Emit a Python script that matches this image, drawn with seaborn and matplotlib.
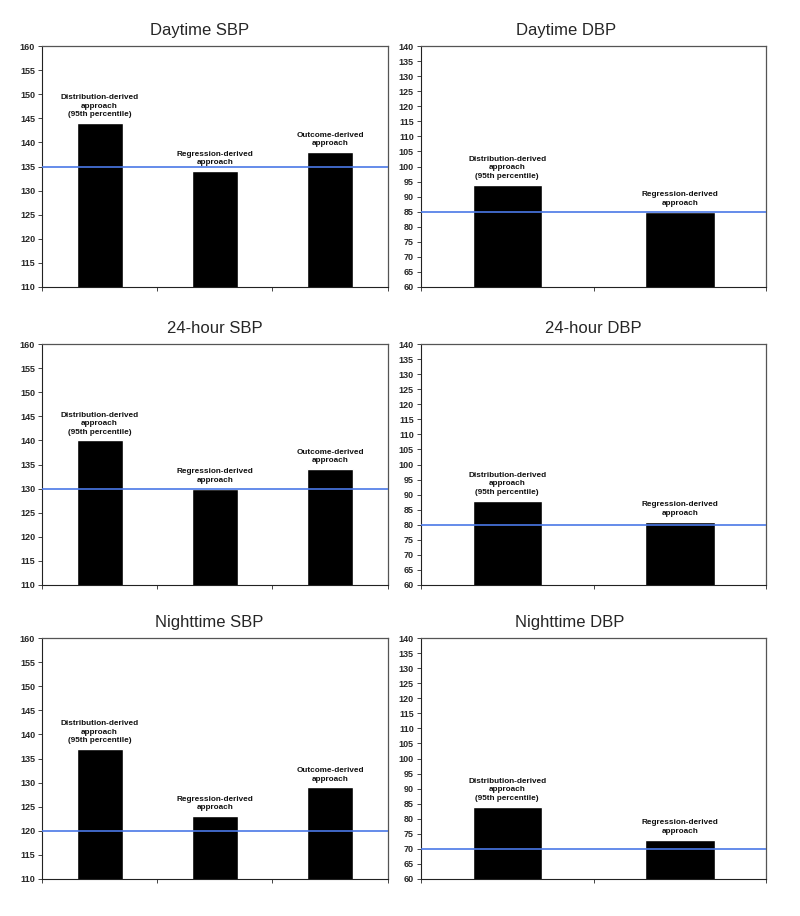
import numpy as np
import pandas as pd
import matplotlib.pyplot as plt
import seaborn as sns

sns.set_style('white')
plt.rcParams['font.family'] = ['Liberation Sans', 'DejaVu Sans']

# approaches and labels
sbp_approaches = ['Distribution-derived\napproach\n(95th percentile)',
                  'Regression-derived\napproach',
                  'Outcome-derived\napproach']
dbp_approaches = sbp_approaches[:2]

# values
day_sbp = [144, 134, 138]
day_dbp = [94, 85]
h24_sbp = [140, 130, 134]
h24_dbp = [88, 81]
night_sbp = [137, 123, 129]
night_dbp = [84, 73]

# reference thresholds (blue line)
thresholds = {'Daytime SBP': 135, 'Daytime DBP': 85,
              '24-hour SBP': 130, '24-hour DBP': 80,
              'Nighttime SBP': 120, 'Nighttime DBP': 70}

panels = [('Daytime SBP', day_sbp), ('Daytime DBP', day_dbp),
          ('24-hour SBP', h24_sbp), ('24-hour DBP', h24_dbp),
          ('Nighttime SBP', night_sbp), ('Nighttime DBP', night_dbp)]

# titles in the original are not quite centred
title_x = [0.457, 0.42, 0.5, 0.5, 0.483, 0.43]

fig = plt.figure(figsize=(8, 9.16), dpi=100)

row_bottoms = [0.6867, 0.3614, 0.0404]
col_lefts = [0.0525, 0.526]
axw, axh = 0.432, 0.263

for i, (title, vals) in enumerate(panels):
    r, c = divmod(i, 2)
    ax = fig.add_axes([col_lefts[c], row_bottoms[r], axw, axh])
    labels = sbp_approaches if c == 0 else dbp_approaches
    df = pd.DataFrame({'approach': labels, 'value': vals})
    sns.barplot(data=df, x='approach', y='value', color='black',
                width=0.4, ax=ax, saturation=1)
    if c == 0:
        lo, hi = 110, 160
    else:
        lo, hi = 60, 140
    ax.set_ylim(lo, hi)
    ax.set_yticks(np.arange(lo, hi + 1, 5))
    n = len(vals)
    ax.set_xlim(-0.5, n - 0.5)
    ax.set_xticks(np.arange(-0.5, n, 1))
    ax.set_xticklabels([])
    ax.set_xlabel('')
    ax.set_ylabel('')
    ax.axhline(thresholds[title], color='#4a78e6', lw=1.2, zorder=3)
    for j, v in enumerate(vals):
        ax.annotate(labels[j], (j, v), xytext=(0, 3.5), textcoords='offset points',
                    ha='center', va='bottom', fontsize=5.9, fontweight='bold',
                    linespacing=1.3, color='#111111')
    ax.set_title(title, fontsize=12, pad=8, x=title_x[i])
    for lbl in ax.get_yticklabels():
        lbl.set_fontweight('bold')
    ax.tick_params(axis='y', labelsize=6.5, length=3, width=0.6, direction='out', left=True, pad=2)
    ax.tick_params(axis='x', length=3, width=0.6, direction='out', bottom=True)
    for s in ['left', 'bottom']:
        ax.spines[s].set_color('#222222')
        ax.spines[s].set_linewidth(0.8)
    for s in ['top', 'right']:
        ax.spines[s].set_color('#555555')
        ax.spines[s].set_linewidth(0.9)

fig.savefig('out.png', dpi=100)
